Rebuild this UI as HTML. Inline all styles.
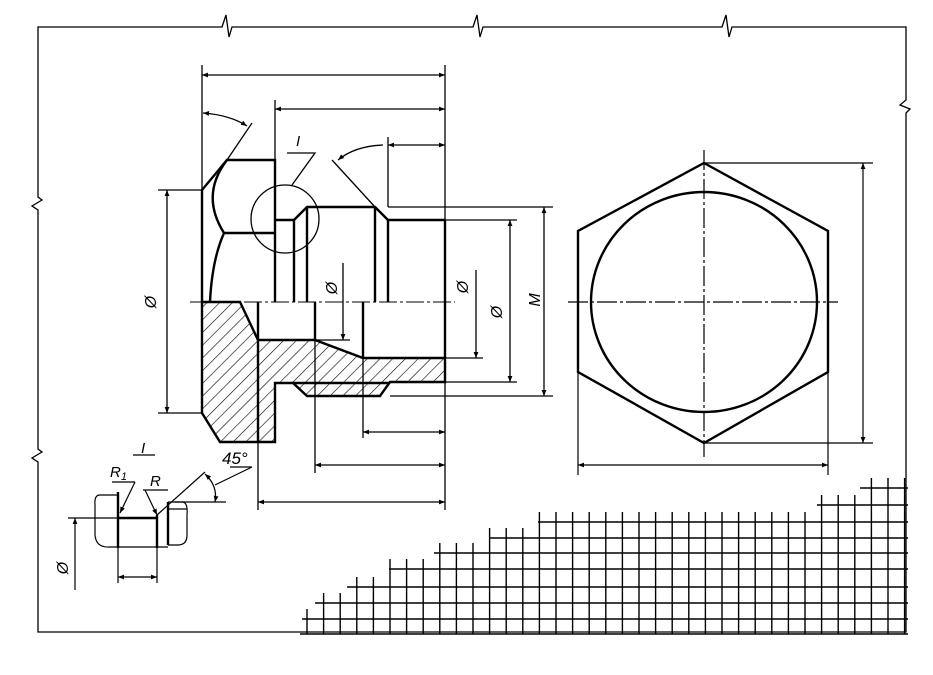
<!DOCTYPE html>
<html><head><meta charset="utf-8"><style>
html,body{margin:0;padding:0;background:#fff}
svg{display:block}
text{font-family:"Liberation Sans",sans-serif;font-style:italic;fill:#000}
</style></head><body>
<svg width="933" height="675" viewBox="0 0 933 675" xmlns="http://www.w3.org/2000/svg">
<defs>
<pattern id="h" patternUnits="userSpaceOnUse" width="9" height="9" patternTransform="rotate(45)">
<line x1="0" y1="0" x2="0" y2="9" stroke="#000" stroke-width="1.2"/>
</pattern>
<marker id="a" viewBox="0 0 10 10" refX="10" refY="5" markerWidth="10" markerHeight="6" orient="auto-start-reverse" markerUnits="userSpaceOnUse">
<path d="M0,1 L10,5 L0,9 Z" fill="#000"/></marker>
</defs>
<g fill="none" stroke="#000" stroke-width="1.3">
<path d="M38,632 V462 l-6,-4 l10,-6 l-4,-3 V210 l-6,-4 l10,-6 l-4,-3 V27 H222 l4,-12 l3,22 l3,-10 H473 l4,-12 l3,22 l3,-10 H722 l4,-12 l3,22 l3,-10 H906 V100 l-6,5 l10,4 l-4,4 V632 Z"/>
<path d="M202,65 V190 M445,65 V510 M275,100 V160 M388,137 V207"/>
<line x1="202" y1="75" x2="445" y2="75" marker-start="url(#a)" marker-end="url(#a)"/>
<line x1="275" y1="109" x2="445" y2="109" marker-start="url(#a)" marker-end="url(#a)"/>
<line x1="388" y1="145" x2="445" y2="145" marker-start="url(#a)" marker-end="url(#a)"/>
<path d="M227,160 L252,123 M332,160 L375,207"/>
<path d="M203,113 Q230,115 247,126" marker-start="url(#a)" marker-end="url(#a)"/>
<path d="M338,160 Q355,146 383,145" marker-start="url(#a)"/>
<circle cx="285" cy="219" r="34"/>
<path d="M292,185 L315,153 H287"/>
<path d="M190,302 H455" stroke-width="1" stroke-dasharray="18,3,3,3"/>
<path d="M158,190 H202 M158,413 H202"/>
<line x1="167" y1="190" x2="167" y2="413" marker-start="url(#a)" marker-end="url(#a)"/>
<line x1="343" y1="263" x2="343" y2="340" marker-end="url(#a)"/>
<path d="M315,340 H350 M445,358 H483 M445,382 H517 M390,396 H553 M445,220 H517 M388,207 H553"/>
<line x1="476" y1="270" x2="476" y2="358" marker-end="url(#a)"/>
<line x1="510" y1="220" x2="510" y2="382" marker-start="url(#a)" marker-end="url(#a)"/>
<line x1="544" y1="207" x2="544" y2="396" marker-start="url(#a)" marker-end="url(#a)"/>
<path d="M258,442 V510 M315,302 V473 M363,302 V438"/>
<line x1="363" y1="432" x2="445" y2="432" marker-start="url(#a)" marker-end="url(#a)"/>
<line x1="315" y1="465" x2="445" y2="465" marker-start="url(#a)" marker-end="url(#a)"/>
<line x1="258" y1="502" x2="445" y2="502" marker-start="url(#a)" marker-end="url(#a)"/>
</g>
<path d="M202,302 L240,302 L258,340 L315,340 L363,358 L445,358 L445,382 L390,382 L380,396 L307,396 L293,383 L275,383 L275,442 L220,442 L202,413 Z" fill="url(#h)" stroke="#000" stroke-width="2.4"/>
<g fill="none" stroke="#000" stroke-width="2.4">
<path d="M202,302 V190 L227,160 H275 V302"/>
<path d="M227,160 Q200,195 224,233 H275 M224,233 Q212,260 210,302"/>
<path d="M258,302 V442 M315,302 V340 M363,302 V358 M445,220 V358"/>
<path d="M275,220 H294 L307,207 H375 L388,220 H445"/>
<path d="M294,220 V302 M307,207 V302 M375,207 V302 M388,220 V302"/>
<path d="M293,383 H390"/>
<path d="M704,163 L828,231 L828,372 L704,443 L578,372 L578,231 Z"/>
<ellipse cx="704" cy="302" rx="113" ry="110"/>
</g>
<g fill="none" stroke="#000" stroke-width="1.2">
<path d="M568,302 H838 M704,150 V457" stroke-dasharray="20,3,3,3"/>
<path d="M704,163 H873 M704,443 H873 M578,372 V475 M828,372 V475"/>
<line x1="863" y1="163" x2="863" y2="443" marker-start="url(#a)" marker-end="url(#a)"/>
<line x1="578" y1="465" x2="828" y2="465" marker-start="url(#a)" marker-end="url(#a)"/>
<path d="M133,455 H155 M112,482 H135 M143,490 H168 M230,467 H252 L215,485 M157,515 L205,472 M175,502 H226"/>
<line x1="135" y1="482" x2="120" y2="513" marker-end="url(#a)"/>
<line x1="145" y1="490" x2="157" y2="515" marker-end="url(#a)"/>
<path d="M205,474 Q218,486 215,502" marker-start="url(#a)" marker-end="url(#a)"/>
<path d="M68,518 H118 M118,548 V583 M157,548 V583"/>
<line x1="118" y1="577" x2="157" y2="577" marker-start="url(#a)" marker-end="url(#a)"/>
<line x1="75" y1="590" x2="75" y2="518" marker-end="url(#a)"/>
<path d="M118,495 H100 Q94,495 95,505 V535 Q96,548 110,547 H168 M168,502 H183 Q188,503 187,515 V535 Q187,545 178,545 H168 M168,509 H187"/>
</g>
<g fill="none" stroke="#000" stroke-width="2.4">
<path d="M118,492 V548 M157,515 V548 M168,502 V545 M118,518 H157"/>
</g>
<g stroke="#000" stroke-width="1.4" id="grid"></g>
<text x="296" y="146" font-size="15">I</text>
<text x="141" y="453" font-size="15">I</text>
<text x="110" y="477" font-size="15">R<tspan font-size="11" dy="3">1</tspan></text>
<text x="150" y="486" font-size="15">R</text>
<text x="222" y="464" font-size="17">45°</text>
<text font-size="16" transform="translate(156,302) rotate(-90)" text-anchor="middle">Ø</text>
<text font-size="16" transform="translate(337,288) rotate(-90)" text-anchor="middle">Ø</text>
<text font-size="16" transform="translate(468,287) rotate(-90)" text-anchor="middle">Ø</text>
<text font-size="16" transform="translate(502,312) rotate(-90)" text-anchor="middle">Ø</text>
<text font-size="16" transform="translate(540,300) rotate(-90)" text-anchor="middle">M</text>
<text font-size="16" transform="translate(68,568) rotate(-90)" text-anchor="middle">Ø</text>
</svg>
<script>
(function(){
var g=document.getElementById('grid'),ns='http://www.w3.org/2000/svg';
var rows=[[488,860],[505,817],[522,538],[538,489],[553,434],[569,389],[587,347],[603,315],[619,302]];
function L(x1,y1,x2,y2){var l=document.createElementNS(ns,'line');l.setAttribute('x1',x1);l.setAttribute('y1',y1);l.setAttribute('x2',x2);l.setAttribute('y2',y2);g.appendChild(l);}
rows.forEach(function(r){L(r[1],r[0],908,r[0]);});
L(300,634,908,634);
for(var x=307;x<906;x+=16.6){var ty=634;for(var i=0;i<rows.length;i++){if(rows[i][1]<=x){ty=rows[i][0];break;}}L(x,ty-10,x,634);}
})();
</script>
</body></html>
